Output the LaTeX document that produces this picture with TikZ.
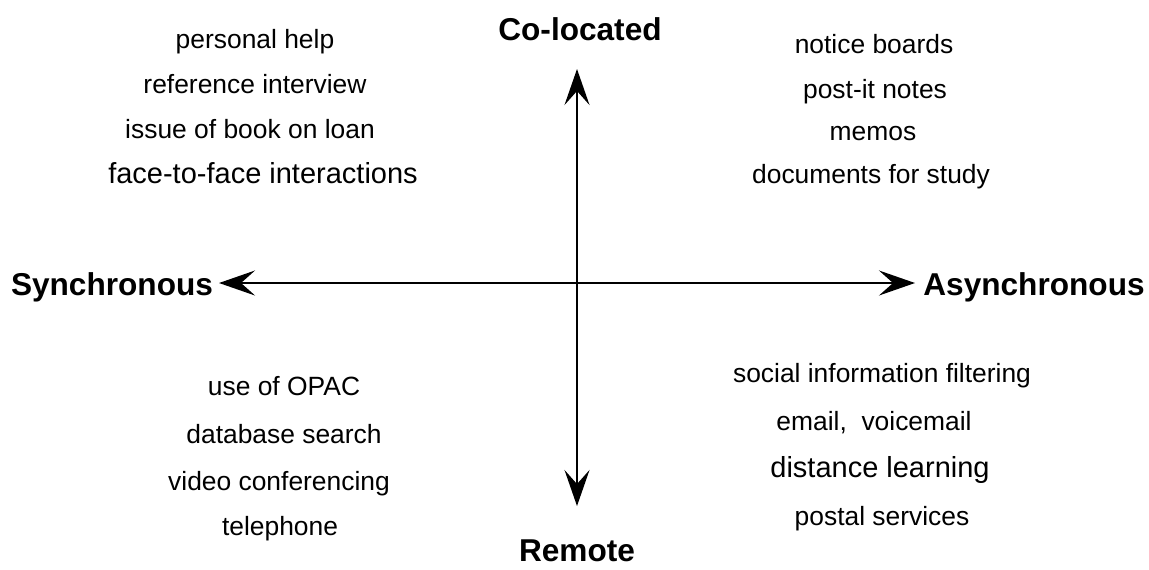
\documentclass[tikz,border=0pt]{standalone}
\usepackage{fontspec}
\setmainfont{Liberation Sans}
\usepackage{tikz}
\usetikzlibrary{arrows.meta}

\begin{document}
\begin{tikzpicture}[x=0.5pt, y=-0.5pt, >={Stealth[length=18pt, width=12.5pt, inset=7pt]}, line width=1pt]
    \tikzset{
        axislabel/.style={anchor=base, inner sep=0pt, font=\fontsize{15.8}{19}\selectfont\bfseries},
        item/.style={anchor=base, inner sep=0pt, font=\fontsize{13.2}{16}\selectfont},
        itembig/.style={anchor=base, inner sep=0pt, font=\fontsize{14.5}{17}\selectfont}
    }
    \useasboundingbox (0,0) rectangle (1149,569);
    % axis labels
    \node[axislabel] (coloc) at (580,40) {Co-located};
    \node[axislabel] (remote) at (577,561) {Remote};
    \node[axislabel] (sync) at (112,295) {Synchronous};
    \node[axislabel] (async) at (1034,295) {Asynchronous};
    % arrow tips of the two axes
    \coordinate (top) at (577,69);
    \coordinate (bottom) at (577,506);
    \coordinate (left) at (219,283);
    \coordinate (right) at (915,283);
    \draw[<->] (left) -- (right);
    \draw[<->] (top) -- (bottom);
    % co-located, synchronous
    \node[item] (help) at (255,48) {personal help};
    \node[item] (interview) at (255,93) {reference interview};
    \node[item] (loan) at (250,138) {issue of book on loan};
    \node[itembig] (facetoface) at (263,183) {face-to-face interactions};
    % co-located, asynchronous
    \node[item] (boards) at (874,53) {notice boards};
    \node[item] (postit) at (875,98) {post-it notes};
    \node[item] (memos) at (873,140) {memos};
    \node[item] (documents) at (871,183) {documents for study};
    % remote, synchronous
    \node[item] (opac) at (284,395) {use of OPAC};
    \node[item] (database) at (284,443) {database search};
    \node[item] (video) at (279,490) {video conferencing};
    \node[item] (phone) at (280,535) {telephone};
    % remote, asynchronous
    \node[item] (filtering) at (882,382) {social information filtering};
    \node[item] (email) at (874,430) {email,\ \ voicemail};
    \node[itembig] (distance) at (880,477) {distance learning};
    \node[item] (postal) at (882,525) {postal services};
\end{tikzpicture}
\end{document}
